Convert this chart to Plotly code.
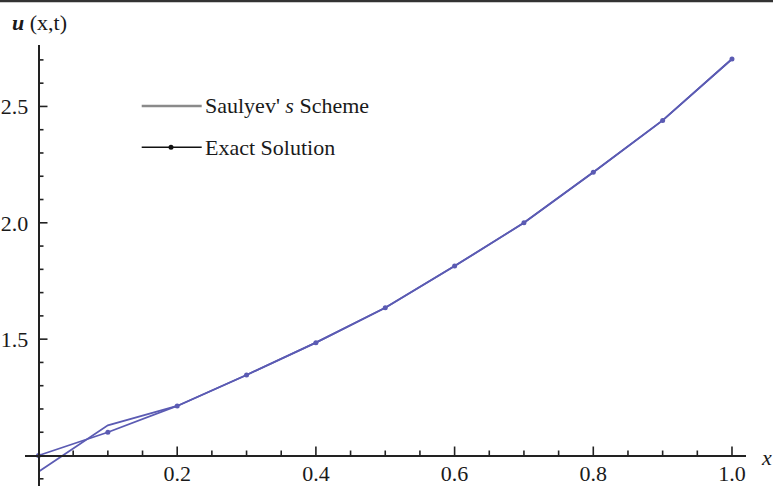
import plotly.graph_objects as go

# Data
x_vals = [0.0, 0.1, 0.2, 0.3, 0.4, 0.5, 0.6, 0.7, 0.8, 0.9, 1.0]
saulyev = [0.93, 1.13, 1.213, 1.346, 1.485, 1.635, 1.814, 2.0, 2.217, 2.440, 2.704]
exact = [1.0, 1.10, 1.213, 1.346, 1.485, 1.635, 1.814, 2.0, 2.217, 2.440, 2.704]

# Tick positions and labels
x_major = [0.2, 0.4, 0.6, 0.8, 1.0]
x_major_text = ["0.2", "0.4", "0.6", "0.8", "1.0"]
x_minor = [0.05, 0.1, 0.15, 0.25, 0.3, 0.35, 0.45, 0.5, 0.55, 0.65, 0.7, 0.75,
           0.85, 0.9, 0.95]
y_major = [1.5, 2.0, 2.5]
y_major_text = ["1.5", "2.0", "2.5"]
y_minor = [0.9, 1.1, 1.2, 1.3, 1.4, 1.6, 1.7, 1.8, 1.9, 2.1, 2.2, 2.3, 2.4,
           2.6, 2.7]

LINE = "#5b5bb3"
AXIS = "#222222"
FONT = "Liberation Serif"
TXT = "#1a1a1a"

W, H = 773, 486
ML, MR, MT, MB = 25, 27, 45, 0
XR = [-0.01947, 1.0202]
YR = [0.869, 2.764]
X_ORIGIN, Y_ORIGIN = 0.0, 1.0

PW, PH = W - ML - MR, H - MT - MB
X_PER_PX = (XR[1] - XR[0]) / PW
Y_PER_PX = (YR[1] - YR[0]) / PH

fig = go.Figure()

# tick marks pointing into the plot (Mathematica style), built from tick lists
def tick_segments(values, length_px, vertical):
    xs, ys = [], []
    for v in values:
        if vertical:
            xs += [v, v, None]
            ys += [Y_ORIGIN, Y_ORIGIN + length_px * Y_PER_PX, None]
        else:
            xs += [X_ORIGIN, X_ORIGIN + length_px * X_PER_PX, None]
            ys += [v, v, None]
    return xs, ys

for vals, ln, vert in [(x_major, 9, True), (x_minor, 5, True),
                       (y_major, 9, False), (y_minor, 5, False)]:
    tx, ty = tick_segments(vals, ln, vert)
    fig.add_trace(go.Scatter(x=tx, y=ty, mode="lines", connectgaps=False,
                             line=dict(color=AXIS, width=1.6),
                             showlegend=False, hoverinfo="skip"))

fig.add_trace(go.Scatter(x=x_vals, y=saulyev, mode="lines",
                         line=dict(color=LINE, width=1.8), showlegend=False))
fig.add_trace(go.Scatter(x=x_vals, y=exact, mode="lines+markers",
                         line=dict(color=LINE, width=1.8),
                         marker=dict(color=LINE, size=5), showlegend=False))

xpos = (X_ORIGIN - XR[0]) / (XR[1] - XR[0])
ypos = (Y_ORIGIN - YR[0]) / (YR[1] - YR[0])

fig.update_layout(
    template="none",
    width=W, height=H,
    margin=dict(l=ML, r=MR, t=MT, b=MB, autoexpand=False),
    paper_bgcolor="white", plot_bgcolor="white",
    font=dict(family=FONT, size=22, color=TXT),
    xaxis=dict(range=XR, showgrid=False, zeroline=False, automargin=False,
               showline=True, linecolor=AXIS, linewidth=1.5,
               anchor="free", position=ypos,
               tickmode="array", tickvals=x_major, ticktext=x_major_text,
               ticks="inside", ticklen=7, tickcolor="rgba(0,0,0,0)",
               ticklabelstandoff=-2,
               tickfont=dict(family=FONT, size=22, color=TXT)),
    yaxis=dict(range=YR, showgrid=False, zeroline=False, automargin=False,
               showline=True, linecolor=AXIS, linewidth=1.5,
               anchor="free", position=xpos,
               tickmode="array", tickvals=y_major, ticktext=y_major_text,
               ticks="inside", ticklen=7, tickcolor="rgba(0,0,0,0)",
               ticklabelstandoff=5,
               tickfont=dict(family=FONT, size=22, color=TXT)),
)

def px_to_x(px):
    return (px - 38.5) / 693.5

def py_to_y(py):
    return 1 + (455.5 - py) / 232.7

# manual legend (as in the reference: grey / black samples)
lx0, lx1 = px_to_x(141.7), px_to_x(201.7)
ly1, ly2 = py_to_y(106), py_to_y(147.3)
fig.add_shape(type="line", xref="x", yref="y", x0=lx0, x1=lx1, y0=ly1, y1=ly1,
              line=dict(color="#8a8a8a", width=2.5))
fig.add_shape(type="line", xref="x", yref="y", x0=lx0, x1=lx1, y0=ly2, y1=ly2,
              line=dict(color="#111111", width=1.5))
fig.add_trace(go.Scatter(x=[px_to_x(171)], y=[ly2], mode="markers",
                         marker=dict(color="#111111", size=5), showlegend=False,
                         hoverinfo="skip"))
fig.add_annotation(x=px_to_x(203), y=ly1, xref="x", yref="y", xanchor="left",
                   yanchor="middle", showarrow=False,
                   text="Saulyev' <i>s</i> Scheme",
                   font=dict(family=FONT, size=22, color=TXT))
fig.add_annotation(x=px_to_x(203), y=ly2, xref="x", yref="y", xanchor="left",
                   yanchor="middle", showarrow=False,
                   text="Exact Solution",
                   font=dict(family=FONT, size=22, color=TXT))

# axis labels
fig.add_annotation(x=(10 - ML) / PW, y=(H - 22.7) / PH,
                   xref="paper", yref="paper", xanchor="left", yanchor="middle",
                   showarrow=False, text="<b><i>u</i></b> (x,t)",
                   font=dict(family=FONT, size=22, color=TXT))
fig.add_annotation(x=(759 - ML) / PW, y=(H - 457) / PH,
                   xref="paper", yref="paper", xanchor="left", yanchor="middle",
                   showarrow=False, text="<i>x</i>",
                   font=dict(family=FONT, size=22, color=TXT))

# top frame line
fig.add_shape(type="line", xref="paper", yref="paper",
              x0=-ML / PW, x1=(W - ML) / PW,
              y0=(H - 1) / PH, y1=(H - 1) / PH,
              line=dict(color="#333333", width=2.5))

fig.write_html("out.html")
